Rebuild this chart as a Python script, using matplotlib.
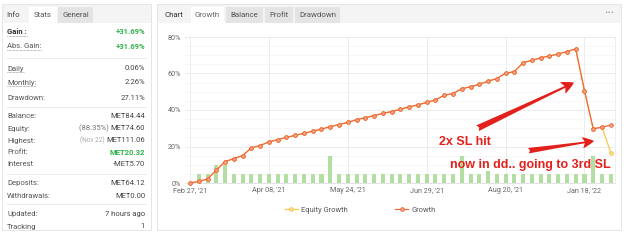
import matplotlib
matplotlib.use("Agg")
import matplotlib.pyplot as plt
from matplotlib.patches import Rectangle
from matplotlib.lines import Line2D

# growth curve (%), one point per period
growth = [0, 0.9, 2.2, 7.0, 11.7, 13.4, 15.0, 19.3, 20.5, 22.6,
          23.7, 25.0, 26.1, 27.2, 28.4, 29.5, 30.9, 32.0, 33.2, 34.7,
          35.8, 36.9, 38.2, 39.1, 40.4, 41.7, 42.8, 44.2, 45.5, 48.1,
          49.0, 51.7, 52.7, 54.1, 55.8, 57.2, 60.2, 61.0, 66.0, 67.2,
          68.6, 69.6, 70.7, 72.0, 73.5, 50.5, 29.7, 30.6, 31.7]
equity = [0, 0.9, 2.2, 7.0, 11.7, 13.4, 15.0, 19.3, 20.5, 22.6,
          23.7, 25.0, 26.1, 27.2, 28.4, 29.5, 30.9, 32.0, 33.2, 34.7,
          35.8, 36.9, 38.2, 39.1, 40.4, 41.7, 42.8, 44.2, 45.5, 48.1,
          49.0, 51.7, 52.7, 54.1, 55.8, 57.2, 60.2, 61.0, 66.0, 67.2,
          68.6, 69.6, 70.7, 72.0, 73.5, 50.5, 29.7, 30.6, 16.5]
trades = [0, 1, 1, 2, 2, 1, 1, 1, 1, 1,
          1, 1, 1, 1, 1, 1, 3, 1, 1, 1,
          1, 1, 1, 1, 1, 1, 1, 1, 1, 1,
          1, 3, 1, 1, 1.4, 1, 1, 1, 1, 1,
          1, 1, 1, 1, 1, 1, 3, 1, 1]
tick_pos = [0, 9, 18, 27, 36, 45]
tick_labels = ["Feb 27, '21", "Apr 08, '21", "May 24, '21",
               "Jun 29, '21", "Aug 20, '21", "Jan 18, '22"]

stats = [("Gain :", "+31.69%", "", 32),
         ("Abs. Gain:", "+31.69%", "", 46.5),
         ("Daily", "0.06%", "", 68.5),
         ("Monthly:", "2.26%", "", 82.5),
         ("Drawdown:", "27.11%", "", 98),
         ("Balance:", "MET84.44", "", 116),
         ("Equity:", "MET74.60", "(88.35%) ", 128.5),
         ("Highest:", "MET111.06", "(Nov 22) ", 140.5),
         ("Profit:", "MET20.32", "", 152.5),
         ("Interest", "-MET5.70", "", 164.5),
         ("Deposits:", "MET64.12", "", 183),
         ("Withdrawals:", "MET0.00", "", 195.5),
         ("Updated:", "7 hours ago", "", 214),
         ("Tracking", "1", "", 226.5)]
separators = [58, 107, 174, 204]

W, H = 625, 240
fig = plt.figure(figsize=(6.25, 2.4), dpi=100)
fig.patch.set_facecolor("white")

def fx(x):
    return x / W

def fy(y):
    return 1 - y / H

def box(x0, y0, x1, y1, **kw):
    fig.add_artist(Rectangle((fx(x0), fy(y1)), fx(x1 - x0), (y1 - y0) / H,
                             transform=fig.transFigure, zorder=-5, **kw))

FONT = "Roboto"
FS = 5.5

# cards
for x0, x1 in [(2, 151), (157, 621)]:
    box(x0 + 1, 5, x1 + 1, 231, facecolor="#ececec", edgecolor="none")
    box(x0, 4, x1, 230, facecolor="white", edgecolor="#e2e2e2", lw=0.6)
    box(x0 + 0.5, 4.5, x1 - 0.5, 22.7, facecolor="#f4f4f4", edgecolor="none")

# tabs
fig.text(fx(13), fy(15), "Info", fontsize=5.7, color="#444", family=FONT, ha="center", va="center")
box(29, 7.3, 57, 22.7, facecolor="white", edgecolor="none")
fig.text(fx(43), fy(15), "Stats", fontsize=5.7, color="#555", family=FONT, ha="center", va="center")
box(58, 7.3, 93, 22.7, facecolor="#e4e4e4", edgecolor="none")
fig.text(fx(75.5), fy(15), "General", fontsize=5.7, color="#555", family=FONT, ha="center", va="center")

fig.text(fx(174), fy(15), "Chart", fontsize=5.7, color="#333", family=FONT, ha="center", va="center")
box(191, 7.3, 224, 22.7, facecolor="white", edgecolor="none")
fig.text(fx(207.5), fy(15), "Growth", fontsize=5.7, color="#666", family=FONT, ha="center", va="center")
for (a, b, t) in [(226, 263, "Balance"), (265, 293, "Profit"), (295, 340, "Drawdown")]:
    box(a, 7.3, b, 22.7, facecolor="#e4e4e4", edgecolor="none")
    fig.text(fx((a + b) / 2), fy(15), t, fontsize=5.7, color="#555", family=FONT,
             ha="center", va="center")
fig.text(fx(609), fy(12.5), "\u2022\u2022\u2022", fontsize=4, color="#999", family="DejaVu Sans",
         ha="center", va="center")

# stats list
green = "#2fb34a"
labels = []
for name, val, pre, y in stats:
    bold = name == "Gain :"
    lt = fig.text(fx(7), fy(y), name, fontsize=FS, family=FONT,
                  color="#333" if bold else "#555",
                  fontweight="bold" if bold else "normal", va="center")
    labels.append(lt)
    col = green if val.startswith("+") or name == "Profit:" else "#444"
    vt = fig.text(fx(145), fy(y), val, fontsize=FS, family=FONT, color=col,
                  fontweight="bold" if col == green else "normal", ha="right", va="center")
    if pre:
        fig.canvas.draw()
        bb = vt.get_window_extent()
        fig.text(bb.x0 / W, fy(y), pre, fontsize=4.7 if "Nov" in pre else FS, family=FONT,
                 color="#aaa" if "Nov" in pre else "#777", ha="right", va="center")
for s in separators:
    fig.add_artist(Line2D([fx(6), fx(146)], [fy(s), fy(s)], color="#e8e8e8", lw=0.6,
                          transform=fig.transFigure))
fig.canvas.draw()
for lt in labels[:4]:
    bb = lt.get_window_extent()
    fig.add_artist(Line2D([bb.x0 / W, bb.x1 / W], [(bb.y0 - 0.3) / H] * 2, color="#777",
                          lw=0.5, ls=(0, (1, 1)), transform=fig.transFigure))

# chart
ax = fig.add_axes([fx(185), fy(183), 430 / W, 146 / H])
x = list(range(len(growth)))
ax2 = ax.twinx()
ax.set_zorder(1)
ax2.set_zorder(2)
ax2.patch.set_visible(False)
ax2.bar(x, trades, width=0.46, color="#b3dea2", zorder=1)
ax2.set_ylim(0, 16.5)
ax2.set_yticks([])

ax2.plot(x, [v / 80 * 16.5 for v in equity], color="#f8c84a", lw=0.9, marker="o", ms=2.6,
         mfc="#fde3a0", mec="#f3bd30", mew=0.6, clip_on=False, zorder=3)
ax2.plot(x, [v / 80 * 16.5 for v in growth], color="#f2673f", lw=0.9, marker="o", ms=2.6,
         mfc="#f8a88d", mec="#ec5a30", mew=0.6, clip_on=False, zorder=4)
eq_key = Line2D([], [], color="#f8c84a", lw=0.9, marker="o", ms=2.6, mfc="#fde3a0",
                mec="#f3bd30", mew=0.6)
gr_key = Line2D([], [], color="#f2673f", lw=0.9, marker="o", ms=2.6, mfc="#f8a88d",
                mec="#ec5a30", mew=0.6)

ax.set_xlim(-0.57, 48.48)
ax2.set_xlim(-0.57, 48.48)
ax.set_ylim(0, 80)
ax.set_yticks([0, 20, 40, 60, 80])
ax.set_yticklabels(["0%", "20%", "40%", "60%", "80%"])
ax.set_yticks(range(0, 81, 5), minor=True)
ax.set_xticks(tick_pos)
ax.set_xticklabels(tick_labels)
ax.grid(True, which="major", color="#e9e9e9", lw=0.6)
ax.grid(True, which="minor", axis="y", color="#f4f4f4", lw=0.5)
ax.tick_params(which="both", length=0, labelsize=5.2, labelcolor="#666", pad=3)
for lab in ax.get_xticklabels() + ax.get_yticklabels():
    lab.set_family(FONT)
for a in (ax, ax2):
    for sp in ["top", "left"]:
        a.spines[sp].set_visible(False)
    a.spines["right"].set_color("#eeeeee")
    for sp in a.spines.values():
        sp.set_linewidth(0.6)
ax.spines["bottom"].set_color("#dddddd")
ax2.spines["bottom"].set_visible(False)

leg = ax2.legend([eq_key, gr_key], ["Equity Growth", "Growth"], loc="center",
                 bbox_to_anchor=(0.408, -0.185), ncol=2, frameon=False,
                 handlelength=1.7, handletextpad=0.5, columnspacing=6.3,
                 prop={"family": FONT, "size": 5.4})
for t in leg.get_texts():
    t.set_color("#555")

# annotations
red = "#e3201b"
ax2.annotate("", xy=(43.8, 55 / 80 * 16.5), xytext=(32.8, 30 / 80 * 16.5), annotation_clip=False,
             arrowprops=dict(arrowstyle="fancy,head_length=0.9,head_width=0.9,tail_width=0.45",
                             color=red, lw=0, shrinkA=0, shrinkB=0), zorder=6)
ax2.annotate("", xy=(46.1, 23 / 80 * 16.5), xytext=(38.6, 17.7 / 80 * 16.5), annotation_clip=False,
             arrowprops=dict(arrowstyle="fancy,head_length=0.85,head_width=0.8,tail_width=0.4",
                             color=red, lw=0, shrinkA=0, shrinkB=0), zorder=6)
fig.text(fx(465), fy(141.7), "2x SL hit", color=red, fontsize=9, fontweight="bold",
         family="Liberation Sans", ha="center", va="center", zorder=7)
fig.text(fx(530), fy(165), "now in dd.. going to 3rd SL", color=red, fontsize=9,
         fontweight="bold", family="Liberation Sans", ha="center", va="center", zorder=7)

fig.savefig("out.png", dpi=100)
